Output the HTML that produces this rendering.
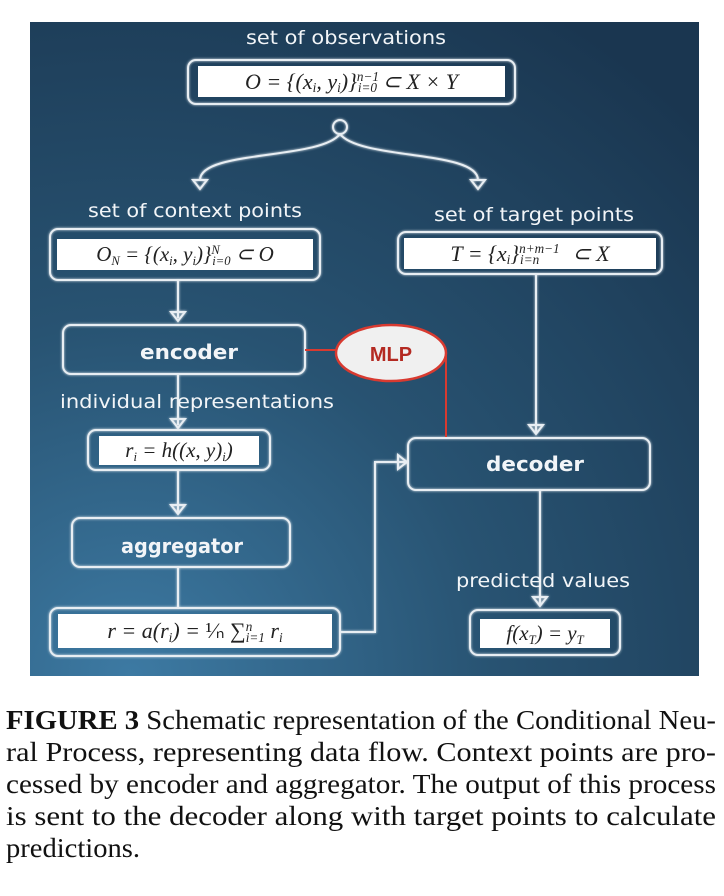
<!DOCTYPE html>
<html><head><meta charset="utf-8"><style>
html,body{margin:0;padding:0;background:#fff;}
body{width:724px;height:896px;position:relative;overflow:hidden;}
.m{position:absolute;background:#fff;font-family:"Liberation Serif",serif;font-style:italic;color:#222;white-space:nowrap;display:flex;align-items:center;justify-content:center;}
.m > span{display:inline-block;line-height:1;}
.m sub,.m sup{line-height:0;font-size:0.6em;position:relative;vertical-align:baseline;}
.m sub{top:0.3em;}
.m sup{top:-0.55em;}
</style></head><body>
<svg width="724" height="896" style="position:absolute;left:0;top:0" xmlns="http://www.w3.org/2000/svg">
<defs>
<radialGradient id="bg" cx="0.15" cy="1" r="1.2">
<stop offset="0" stop-color="#3d7aa3"/><stop offset="0.45" stop-color="#285372"/><stop offset="1" stop-color="#1a3650"/>
</radialGradient>
<filter id="gl"><feGaussianBlur stdDeviation="1.2" result="b"/><feMerge><feMergeNode in="b"/><feMergeNode in="SourceGraphic"/></feMerge></filter>
</defs>
<rect x="30" y="22" width="669" height="654" fill="url(#bg)"/>
<g fill="none" stroke="#e8eef3" stroke-width="2" filter="url(#gl)">
<rect x="188" y="60" width="327" height="44" rx="8"/>
<rect x="50" y="229" width="270" height="51" rx="8"/>
<rect x="398" y="232" width="264" height="42" rx="8"/>
<rect x="63" y="325" width="242" height="49" rx="8"/>
<rect x="408" y="438" width="242" height="52" rx="8"/>
<rect x="88" y="430" width="182" height="40" rx="8"/>
<rect x="72" y="518" width="218" height="49" rx="8"/>
<rect x="50" y="608" width="290" height="48" rx="8"/>
<rect x="470" y="610" width="150" height="45" rx="8"/>
<circle cx="340" cy="127" r="7"/>
<path d="M340 134 C320 160 200 150 200 180"/>
<path d="M340 134 C360 160 478 150 478 180"/>
<path d="M193 180 L207 180 L200 189 Z"/>
<path d="M471 180 L485 180 L478 189 Z"/>
<line x1="178" y1="280" x2="178" y2="318"/><path d="M171 312 L185 312 L178 321 Z"/>
<line x1="536" y1="274" x2="536" y2="432"/><path d="M529 425 L543 425 L536 434 Z"/>
<line x1="178" y1="374" x2="178" y2="425"/><path d="M171 419 L185 419 L178 428 Z"/>
<line x1="178" y1="470" x2="178" y2="512"/><path d="M171 505 L185 505 L178 514 Z"/>
<line x1="178" y1="567" x2="178" y2="608"/>
<path d="M340 632 L375 632 L375 462 L405 462"/><path d="M398 455 L398 469 L407 462 Z"/>
<line x1="540" y1="490" x2="540" y2="604"/><path d="M533 597 L547 597 L540 606 Z"/>
</g>
<g stroke="#d83a30" stroke-width="2" fill="none">
<line x1="305" y1="350" x2="338" y2="350"/>
<path d="M446 356 L446 437"/>
</g>
<ellipse cx="391" cy="353" rx="55" ry="28" fill="#f0f0f0" stroke="#d83a30" stroke-width="2.5"/>
<text x="391" y="361" text-anchor="middle" font-family="Liberation Sans,sans-serif" font-weight="bold" font-size="20" fill="#b42a22">MLP</text>
<g font-family="DejaVu Sans,sans-serif" fill="#f2f5f8" font-size="19">
<text x="246" y="44" textLength="200" lengthAdjust="spacingAndGlyphs">set of observations</text>
<text x="88" y="217" textLength="214" lengthAdjust="spacingAndGlyphs">set of context points</text>
<text x="434" y="221" textLength="200" lengthAdjust="spacingAndGlyphs">set of target points</text>
<text x="60" y="408" textLength="274" lengthAdjust="spacingAndGlyphs">individual representations</text>
<text x="456" y="587" textLength="174" lengthAdjust="spacingAndGlyphs">predicted values</text>
<text x="140" y="359" textLength="98" lengthAdjust="spacingAndGlyphs" font-weight="bold" font-size="20">encoder</text>
<text x="486" y="471" textLength="98" lengthAdjust="spacingAndGlyphs" font-weight="bold" font-size="20">decoder</text>
<text x="121" y="553" textLength="122" lengthAdjust="spacingAndGlyphs" font-weight="bold" font-size="20">aggregator</text>
</g>
<g font-family="Liberation Serif,serif" font-size="27" fill="#111">
<text x="6" y="729" textLength="710" lengthAdjust="spacingAndGlyphs"><tspan font-weight="bold">FIGURE 3</tspan>  Schematic representation of the Conditional Neu-</text>
<text x="6" y="761" textLength="710" lengthAdjust="spacingAndGlyphs">ral Process, representing data flow. Context points are pro-</text>
<text x="6" y="793" textLength="710" lengthAdjust="spacingAndGlyphs">cessed by encoder and aggregator. The output of this process</text>
<text x="6" y="825" textLength="710" lengthAdjust="spacingAndGlyphs">is sent to the decoder along with target points to calculate</text>
<text x="6" y="857" textLength="134" lengthAdjust="spacingAndGlyphs">predictions.</text>
</g>
</svg>
<div class="m" style="left:198px;top:66px;width:307px;height:31px;font-size:22px;"><span>O = {(x<sub>i</sub>, y<sub>i</sub>)}<sup>n−1</sup><sub style="margin-left:-1.6em">i=0</sub>&nbsp;⊂ X × Y</span></div>
<div class="m" style="left:57px;top:239px;width:256px;height:31px;font-size:21px;"><span>O<sub>N</sub> = {(x<sub>i</sub>, y<sub>i</sub>)}<sup>N</sup><sub style="margin-left:-0.6em">i=0</sub> ⊂ O</span></div>
<div class="m" style="left:404px;top:238px;width:252px;height:31px;font-size:22px;"><span>T = {x<sub>i</sub>}<sup>n+m−1</sup><sub style="margin-left:-3em">i=n</sub>&nbsp;&nbsp;&nbsp;&nbsp;&nbsp; ⊂ X</span></div>
<div class="m" style="left:99px;top:436px;width:160px;height:29px;font-size:21px;"><span>r<sub>i</sub> = h((x, y)<sub>i</sub>)</span></div>
<div class="m" style="left:58px;top:614px;width:274px;height:34px;font-size:22px;"><span>r = a(r<sub>i</sub>) = <span style="font-style:normal">¹⁄ₙ ∑</span><sup>n</sup><sub style="margin-left:-0.5em">i=1</sub> r<sub>i</sub></span></div>
<div class="m" style="left:480px;top:619px;width:130px;height:29px;font-size:21px;"><span>f(x<sub>T</sub>) = y<sub>T</sub></span></div>
</body></html>
